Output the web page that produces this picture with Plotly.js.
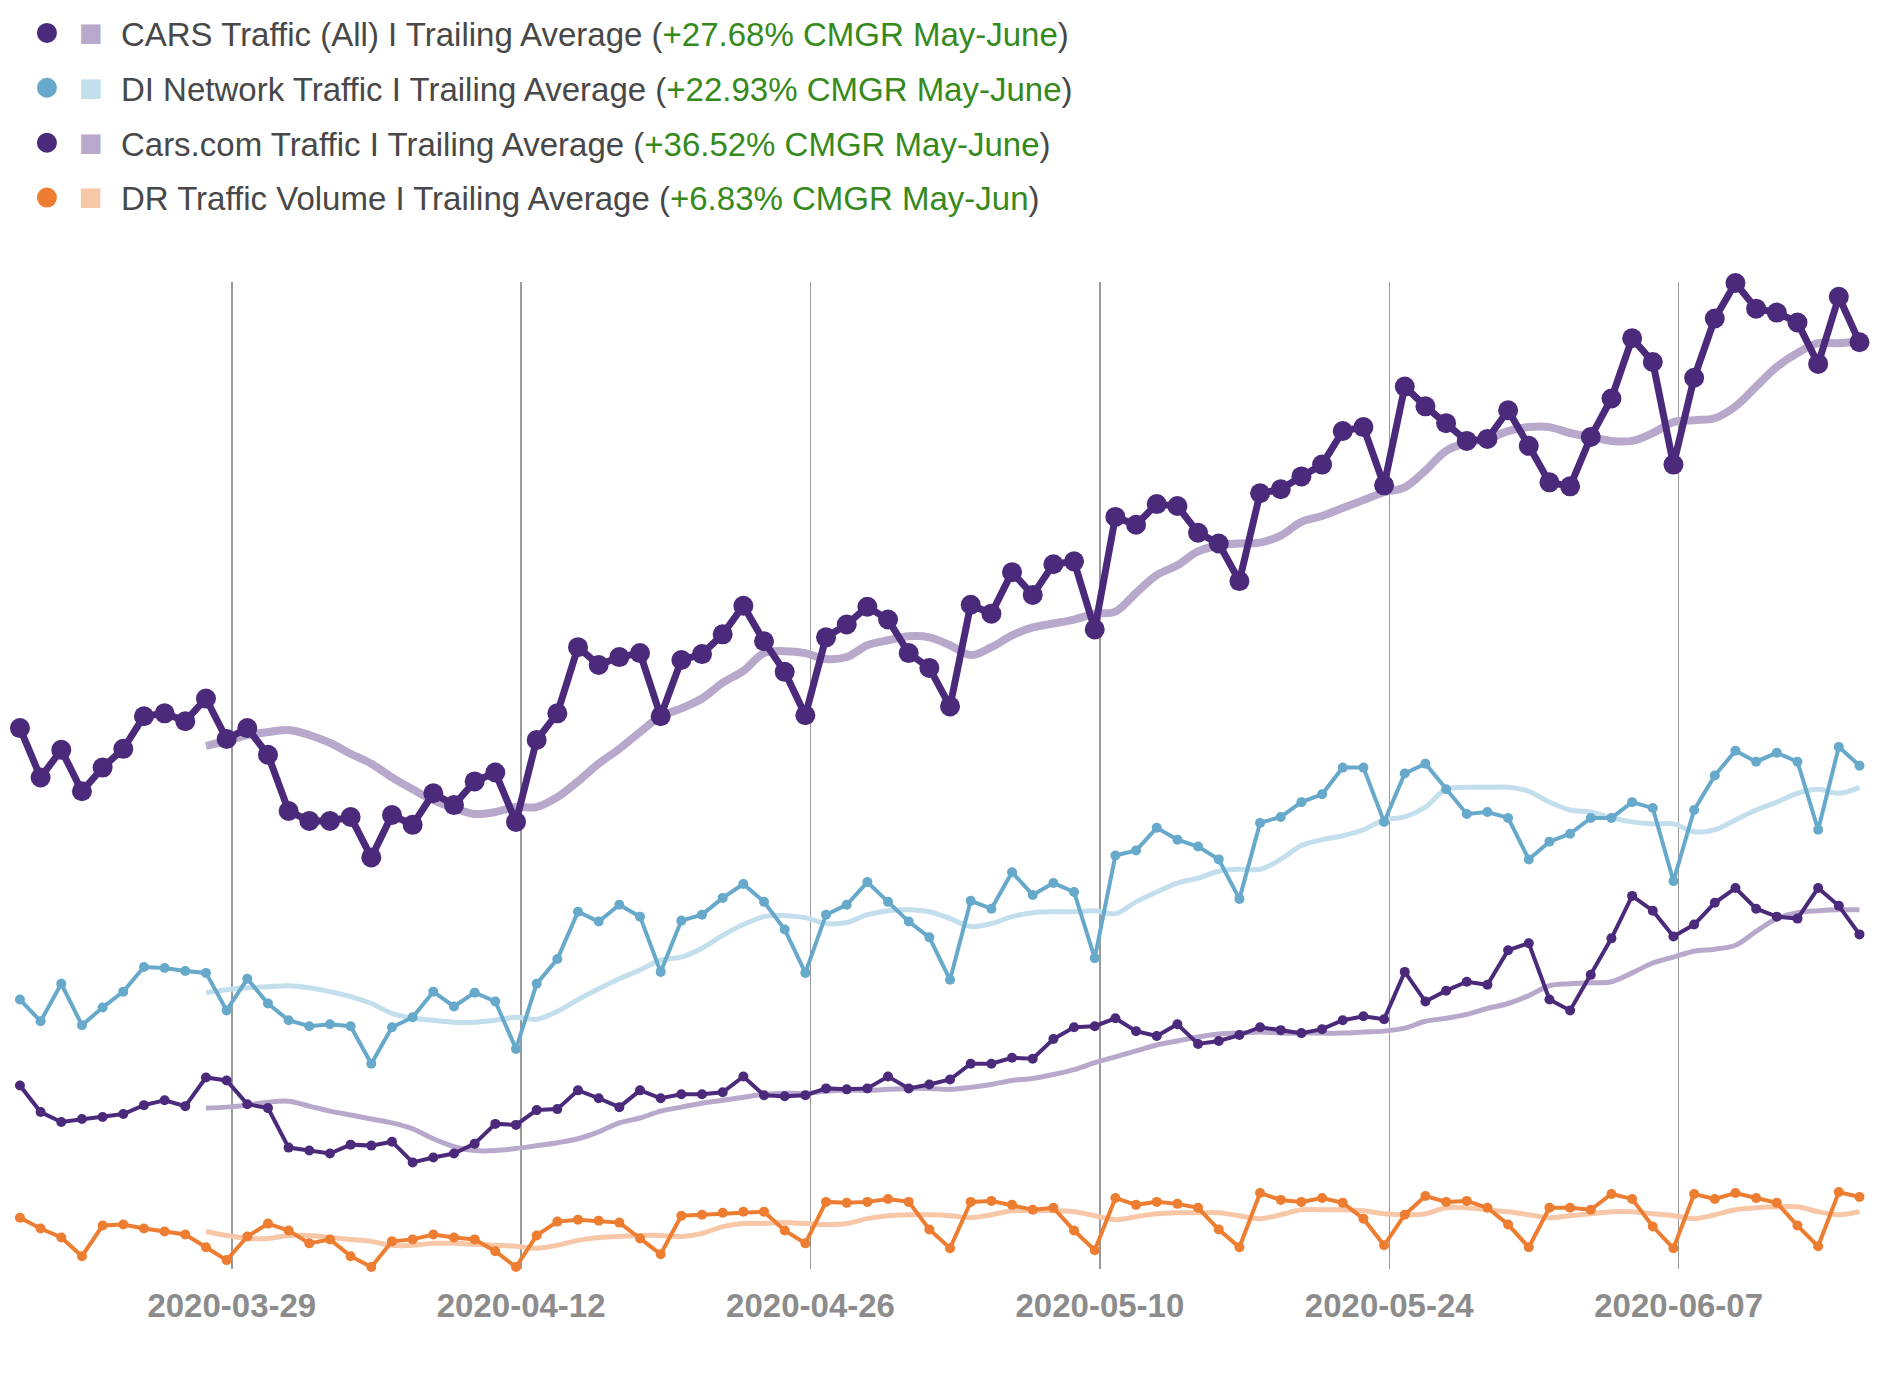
<!DOCTYPE html>
<html>
<head>
<meta charset="utf-8">
<script src="https://cdn.plot.ly/plotly-3.0.1.min.js"></script>
<style>
  html, body { margin: 0; padding: 0; background: #ffffff; }
  #chart { width: 1882px; height: 1399px; }
</style>
</head>
<body>
<div id="chart"></div>
<script>
// ---- Data (index units, 0-100 scale) ----
const startDate = '2020-03-19';   // first daily observation
const dayCount = 90;              // 2020-03-19 .. 2020-06-16
const avgStartIndex = 9;          // trailing averages begin on 2020-03-28

const tickLabels = ['2020-03-29', '2020-04-12', '2020-04-26', '2020-05-10', '2020-05-24', '2020-06-07'];

const seriesNames = [
  'CARS Traffic (All) I Trailing Average',
  'DI Network Traffic I Trailing Average',
  'Cars.com Traffic I Trailing Average',
  'DR Traffic Volume I Trailing Average'
];
const growthLabels = [
  '+27.68% CMGR May-June',
  '+22.93% CMGR May-June',
  '+36.52% CMGR May-June',
  '+6.83% CMGR May-Jun'
];

const carsAll = [54.8,49.8,52.6,48.4,50.8,52.7,56.0,56.3,55.5,57.8,
  53.7,54.8,52.1,46.4,45.4,45.4,45.8,41.7,46.0,45.0,
  48.2,47.0,49.4,50.3,45.3,53.6,56.3,63.0,61.2,62.0,
  62.4,56.0,61.7,62.3,64.3,67.2,63.6,60.5,56.1,64.0,
  65.3,67.1,65.8,62.4,60.9,57.0,67.3,66.4,70.6,68.3,
  71.4,71.7,64.8,76.2,75.4,77.5,77.3,74.6,73.5,69.7,
  78.6,79.0,80.3,81.5,84.9,85.3,79.4,89.4,87.4,85.7,
  83.9,84.1,87.0,83.4,79.7,79.3,84.3,88.2,94.3,91.9,
  81.5,90.3,96.3,99.9,97.3,96.9,95.9,91.7,98.5,93.9];

const carsAllAvg = [53.0,53.5,54.1,54.4,54.6,54.1,53.3,52.2,51.2,49.8,
  48.6,47.5,46.7,46.1,46.3,46.8,46.8,47.8,49.4,51.2,52.7,
  54.4,56.0,56.8,57.8,59.4,60.6,62.4,62.6,62.4,61.8,
  62.0,63.2,63.7,64.1,64.0,63.2,62.2,63.0,64.2,65.0,
  65.4,65.8,66.4,66.6,68.5,70.3,71.3,72.7,73.3,73.5,
  73.6,74.3,75.7,76.3,77.1,77.9,78.7,79.2,80.9,82.9,
  83.7,84.1,84.9,85.3,85.3,84.7,84.3,83.9,83.9,84.7,
  85.8,86.0,86.2,87.4,89.4,91.4,92.8,93.8,93.8,94.0];

const diNetwork = [27.3,25.1,28.9,24.7,26.5,28.1,30.6,30.5,30.2,30.0,
  26.2,29.4,26.9,25.2,24.6,24.8,24.6,20.8,24.5,25.5,
  28.1,26.6,28.0,27.1,22.3,28.9,31.4,36.2,35.2,36.9,
  35.7,30.1,35.3,35.9,37.6,39.0,37.2,34.4,30.0,35.9,
  36.9,39.2,37.2,35.2,33.6,29.3,37.3,36.5,40.2,37.9,
  39.1,38.2,31.5,41.9,42.4,44.7,43.5,42.8,41.5,37.5,
  45.2,45.8,47.3,48.1,50.8,50.8,45.3,50.2,51.2,48.6,
  46.1,46.3,45.7,41.5,43.3,44.1,45.7,45.7,47.3,46.7,
  39.3,46.5,50.0,52.5,51.4,52.3,51.4,44.5,52.9,51.0];

const diNetworkAvg = [28.0,28.3,28.5,28.6,28.7,28.5,28.1,27.6,26.9,25.9,
  25.4,25.2,25.0,25.0,25.2,25.5,25.3,26.1,27.3,28.4,29.4,
  30.3,31.3,31.6,32.5,33.8,34.9,35.7,35.8,35.6,35.0,
  35.1,35.9,36.3,36.4,36.2,35.5,34.7,35.0,35.7,36.1,
  36.2,36.2,36.3,36.0,37.2,38.2,39.1,39.6,40.3,40.5,
  40.5,41.5,42.9,43.5,43.9,44.5,45.5,45.8,46.8,48.6,
  48.8,48.8,48.8,48.4,47.3,46.5,46.3,45.7,45.3,45.1,
  45.1,44.3,44.5,45.5,46.5,47.3,48.2,48.6,48.2,48.8];

const carsCom = [18.6,15.9,14.9,15.2,15.4,15.7,16.6,17.1,16.5,19.4,
  19.1,16.7,16.3,12.3,12.0,11.7,12.6,12.5,12.9,10.8,
  11.3,11.7,12.7,14.7,14.6,16.1,16.2,18.1,17.3,16.4,
  18.1,17.3,17.7,17.7,17.9,19.5,17.6,17.5,17.6,18.3,
  18.2,18.3,19.5,18.3,18.7,19.2,20.8,20.8,21.4,21.3,
  23.3,24.5,24.6,25.4,24.1,23.6,24.8,22.8,23.1,23.7,
  24.5,24.2,23.9,24.3,25.2,25.6,25.3,30.1,27.1,28.2,
  29.1,28.8,32.3,33.0,27.3,26.2,29.8,33.5,37.8,36.3,
  33.7,34.9,37.1,38.6,36.5,35.7,35.5,38.6,36.8,33.9];

const carsComAvg = [16.3,16.4,16.6,16.9,17.0,16.5,16.0,15.6,15.2,14.8,
  14.2,13.2,12.4,12.0,12.0,12.2,12.5,12.8,13.2,13.9,14.8,
  15.3,16.0,16.4,16.8,17.1,17.4,17.7,17.8,17.8,18.0,
  18.1,18.1,18.2,18.3,18.3,18.2,18.4,18.7,19.1,19.3,
  19.7,20.2,20.9,21.5,22.1,22.7,23.1,23.5,23.8,23.9,
  24.0,23.9,23.9,23.9,23.9,24.0,24.1,24.4,25.1,25.4,
  25.8,26.4,26.9,27.7,28.7,28.9,29.0,29.1,30.0,31.0,
  31.6,32.2,32.4,32.8,34.2,35.5,36.1,36.3,36.4,36.4];

const drVolume = [5.2,4.1,3.2,1.3,4.4,4.5,4.1,3.8,3.5,2.2,
  0.9,3.3,4.6,3.9,2.6,3.0,1.3,0.2,2.8,3.0,
  3.5,3.2,3.0,1.8,0.2,3.4,4.8,5.0,4.9,4.7,
  3.1,1.5,5.4,5.5,5.7,5.8,5.8,3.9,2.6,6.8,
  6.7,6.8,7.1,6.8,4.0,2.1,6.8,6.9,6.5,6.0,
  6.2,3.9,1.9,7.2,6.5,6.8,6.6,6.2,4.0,2.2,
  7.7,7.0,6.8,7.2,6.7,5.1,2.4,5.5,7.4,6.8,
  6.9,6.2,4.5,2.2,6.2,6.2,6.0,7.6,7.1,4.3,
  2.1,7.6,7.1,7.7,7.2,6.7,4.4,2.3,7.8,7.3];

const drVolumeAvg = [3.8,3.4,3.1,3.1,3.4,3.4,3.2,3.0,2.8,2.4,
  2.4,2.6,2.6,2.5,2.4,2.3,2.1,2.4,2.9,3.2,3.3,
  3.4,3.4,3.3,3.6,4.3,4.6,4.6,4.7,4.6,4.5,
  4.6,5.1,5.4,5.5,5.5,5.4,5.2,5.5,5.9,5.9,
  5.9,5.8,5.4,5.0,5.3,5.6,5.7,5.7,5.7,5.4,
  5.1,5.5,6.0,6.0,6.0,5.9,5.6,5.5,5.6,6.2,
  6.2,6.0,5.8,5.5,5.2,5.4,5.6,5.8,5.8,5.6,
  5.4,5.1,5.5,6.0,6.2,6.3,6.3,5.8,5.5,5.8];

// ---- Styling ----
const darkPurple = '#4b2a7b', lightPurple = '#b8a8cc';
const blue = '#67a9cb', lightBlue = '#c3deec';
const orange = '#ed7d31', lightOrange = '#f7c7a8';
const green = '#368a1c';
const textGray = '#484848';

// Daily timestamps (recorded at UTC midnight, displayed in US Central time => 6h earlier)
const dayMs = 86400000;
const t0 = Date.parse(startDate + 'T00:00:00Z');
const dates = [];
for (let i = 0; i < dayCount; i++) {
  const d = new Date(t0 + i * dayMs - 6 * 3600000);
  dates.push(d.toISOString().slice(0, 16).replace('T', ' '));
}
const avgDates = dates.slice(avgStartIndex);

function avgTrace(y, color, width) {
  return { x: avgDates, y: y, type: 'scatter', mode: 'lines',
    line: { color: color, width: width, shape: 'spline', smoothing: 1 },
    showlegend: false, hoverinfo: 'skip', cliponaxis: false };
}
function dataTrace(y, color, width, msize) {
  return { x: dates, y: y, type: 'scatter', mode: 'lines+markers',
    line: { color: color, width: width },
    marker: { color: color, size: msize },
    showlegend: false, cliponaxis: false };
}
function legendTrace(idx, color, sqColor) {
  return { x: [null], y: [null], type: 'scatter', mode: 'markers',
    marker: { color: color, size: 16, line: { color: color, width: 4 } },
    legendgroup: 'g' + idx,
    name: '<span style="color:' + sqColor + ';font-size:40px">\u25A0</span>\u00A0\u00A0' +
          seriesNames[idx] + ' (<span style="color:' + green + '">' + growthLabels[idx] + '</span>)',
    showlegend: true, hoverinfo: 'skip' };
}

const traces = [
  avgTrace(drVolumeAvg, lightOrange, 5),
  avgTrace(carsComAvg, lightPurple, 5),
  avgTrace(diNetworkAvg, lightBlue, 5),
  avgTrace(carsAllAvg, lightPurple, 8),
  dataTrace(drVolume, orange, 4, 10),
  dataTrace(carsCom, darkPurple, 4, 10),
  dataTrace(diNetwork, blue, 4, 10),
  dataTrace(carsAll, darkPurple, 7, 20),
  legendTrace(0, darkPurple, lightPurple),
  legendTrace(1, blue, lightBlue),
  legendTrace(2, darkPurple, lightPurple),
  legendTrace(3, orange, lightOrange)
];

const layout = {
  width: 1882, height: 1399,
  margin: { l: 0, r: 0, t: 282, b: 130, pad: 0 },
  paper_bgcolor: '#ffffff', plot_bgcolor: '#ffffff',
  font: { family: '"Liberation Sans", Arial, Helvetica, sans-serif', color: textGray },
  showlegend: true,
  legend: {
    x: 0.0082, xanchor: 'left', y: 1.2807, yanchor: 'top',
    bgcolor: 'rgba(0,0,0,0)', borderwidth: 0,
    font: { size: 33, color: textGray, family: '"Liberation Sans", Arial, sans-serif' },
    itemwidth: 53, tracegroupgap: 9, itemclick: false, itemdoubleclick: false
  },
  xaxis: {
    type: 'date',
    range: ['2020-03-17 18:51', '2020-06-16 20:09'],
    tickvals: tickLabels, ticktext: tickLabels,
    showgrid: true, gridcolor: '#9a9a9a', gridwidth: 1.5,
    zeroline: false, showline: false, ticks: '',
    ticklabelstandoff: 14,
    tickfont: { size: 33, color: '#8c8c8c', weight: 'bold', family: '"Liberation Sans", Arial, sans-serif' }
  },
  yaxis: {
    range: [0, 100], showgrid: false, zeroline: false, showline: false,
    showticklabels: false, ticks: '', fixedrange: true
  }
};

Plotly.newPlot('chart', traces, layout, { displayModeBar: false, staticPlot: true });
</script>
</body>
</html>
